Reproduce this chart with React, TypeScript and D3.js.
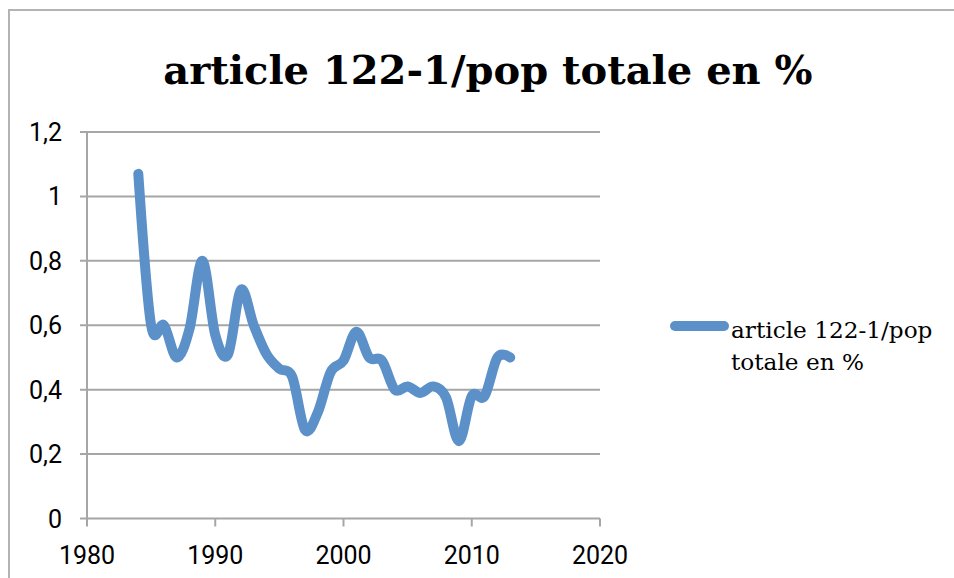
import React from "react";
import * as d3 from "d3";

const years = [1984, 1985, 1986, 1987, 1988, 1989, 1990, 1991, 1992, 1993, 1994, 1995, 1996, 1997, 1998, 1999, 2000, 2001, 2002, 2003, 2004, 2005, 2006, 2007, 2008, 2009, 2010, 2011, 2012, 2013];
const values = [1.07, 0.6, 0.6, 0.5, 0.59, 0.8, 0.57, 0.51, 0.71, 0.6, 0.51, 0.465, 0.44, 0.275, 0.33, 0.455, 0.49, 0.58, 0.5, 0.49, 0.4, 0.41, 0.39, 0.41, 0.375, 0.24, 0.38, 0.38, 0.5, 0.5];
const xTicks = [1980, 1990, 2000, 2010, 2020];
const yTicks = [0, 0.2, 0.4, 0.6, 0.8, 1, 1.2];
const title = "article 122-1/pop totale en %";
const legendLines = ["article 122-1/pop", "totale en %"];

const W = 954;
const H = 578;
const lineColor = "#5b91c8";
const gridColor = "#a6a6a6";

export default function App() {
  const x = d3.scaleLinear().domain([1980, 2020]).range([87, 600]);
  const y = d3.scaleLinear().domain([0, 1.2]).range([518.5, 132]);
  const pts: [number, number][] = years.map((yr, i) => [yr, values[i]]);
  const line = d3
    .line<[number, number]>()
    .x((d) => x(d[0]))
    .y((d) => y(d[1]))
    .curve(d3.curveCatmullRom.alpha(0));
  const fmt = (v: number) => String(v).replace(".", ",");
  const x0 = x(1980);
  const y0 = y(0);
  return (
    <svg width={W} height={H} style={{ position: "absolute", left: 0, top: 0, background: "#fff" }}>
      <rect x={0} y={0} width={W} height={H} fill="#fff" />
      <path d={`M9,${H} L9,10 L${W},10`} fill="none" stroke="#b3b3b3" strokeWidth={2} />
      <text
        x={488}
        y={84}
        textAnchor="middle"
        fontFamily="'DejaVu Serif', serif"
        fontWeight="bold"
        fontSize={40}
        fill="#000"
      >
        {title}
      </text>
      {yTicks.map((t) => (
        <line key={"g" + t} x1={x0 - 7} x2={x(2020)} y1={y(t)} y2={y(t)} stroke={gridColor} strokeWidth={2} />
      ))}
      <line x1={x0} x2={x0} y1={y(1.2)} y2={y0} stroke={gridColor} strokeWidth={2} />
      {xTicks.map((t) => (
        <line key={"xt" + t} x1={x(t)} x2={x(t)} y1={y0} y2={y0 + 8} stroke={gridColor} strokeWidth={2} />
      ))}
      {yTicks.map((t) => (
        <text
          key={"yl" + t}
          x={62}
          y={y(t)}
          dy="0.36em"
          textAnchor="end"
          fontFamily="Roboto, sans-serif"
          fontSize={25}
          fill="#000"
        >
          {fmt(t)}
        </text>
      ))}
      {xTicks.map((t) => (
        <text
          key={"xl" + t}
          x={x(t)}
          y={564}
          textAnchor="middle"
          fontFamily="Roboto, sans-serif"
          fontSize={25}
          fill="#000"
        >
          {t}
        </text>
      ))}
      <path
        d={line(pts) || ""}
        fill="none"
        stroke={lineColor}
        strokeWidth={10}
        strokeLinecap="round"
        strokeLinejoin="round"
      />
      <line x1={675} x2={724} y1={326} y2={326} stroke={lineColor} strokeWidth={10} strokeLinecap="round" />
      {legendLines.map((s, i) => (
        <text
          key={"lg" + i}
          x={731}
          y={338 + i * 32}
          fontFamily="'DejaVu Serif', serif"
          fontSize={23.2}
          fill="#000"
        >
          {s}
        </text>
      ))}
    </svg>
  );
}
